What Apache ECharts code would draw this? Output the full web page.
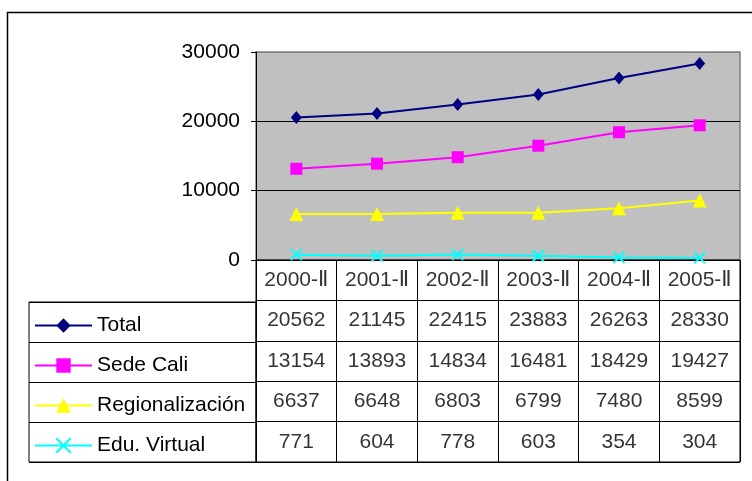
<!DOCTYPE html>
<html>
<head>
<meta charset="utf-8">
<script src="https://cdn.jsdelivr.net/npm/echarts@6/dist/echarts.min.js"></script>
<style>
  html, body { margin: 0; padding: 0; background: #fff; }
  #main { width: 752px; height: 481px; }
</style>
</head>
<body>
<div id="main"></div>
<script>
// periodos
var categories = ['2000-Ⅱ', '2001-Ⅱ', '2002-Ⅱ', '2003-Ⅱ', '2004-Ⅱ', '2005-Ⅱ'];
var seriesNames = ['Total', 'Sede Cali', 'Regionalización', 'Edu. Virtual'];
var total = [20562, 21145, 22415, 23883, 26263, 28330];
var sedeCali = [13154, 13893, 14834, 16481, 18429, 19427];
var regionalizacion = [6637, 6648, 6803, 6799, 7480, 8599];
var eduVirtual = [771, 604, 778, 603, 354, 304];
var yTicks = [0, 10000, 20000, 30000];

var font = 'Liberation Sans, Arial, DejaVu Sans, sans-serif';
var fsize = 21;
var allValues = [total, sedeCali, regionalizacion, eduVirtual];
var colors = ['#000080', '#FF00FF', '#FFFF00', '#00FFFF'];
var symbols = ['diamond', 'rect', 'triangle', 'path://M0,0L10,10M10,0L0,10'];
var sizes = [[11, 13], 12, 14, 11];

// celdas de la tabla de datos
var cells = [];
categories.forEach(function (c, i) {
  cells.push({ value: [i, 0], txt: c });
});
allValues.forEach(function (arr, r) {
  arr.forEach(function (v, i) {
    cells.push({ value: [i, r + 1], txt: String(v) });
  });
});

var chart = echarts.init(document.getElementById('main'));

var series = seriesNames.map(function (name, k) {
  var isX = k == 3;
  return {
    name: name,
    type: 'line',
    xAxisIndex: 0,
    yAxisIndex: 0,
    data: allValues[k],
    symbol: symbols[k],
    symbolSize: sizes[k],
    showAllSymbol: true,
    lineStyle: { color: colors[k], width: 2 },
    itemStyle: {
      color: isX ? 'none' : colors[k],
      borderColor: colors[k],
      borderWidth: isX ? 2 : 0
    },
    emphasis: { disabled: true },
    animation: false
  };
});

series.push({
  type: 'scatter',
  xAxisIndex: 1,
  yAxisIndex: 1,
  data: cells,
  symbolSize: 1,
  itemStyle: { color: 'rgba(0,0,0,0)' },
  label: {
    show: true,
    position: 'inside',
    fontFamily: font,
    fontSize: fsize,
    color: '#000',
    formatter: function (p) { return p.data.txt; }
  },
  silent: true,
  animation: false
});

var option = {
  animation: false,
  graphic: [{
    type: 'polyline',
    shape: { points: [[7.5, 481], [7.5, 12.5], [752, 12.5]] },
    style: { stroke: '#000', lineWidth: 1.5, fill: 'none' },
    silent: true
  }],
  legend: {
    orient: 'vertical',
    left: 29,
    top: 310,
    itemWidth: 57,
    itemHeight: 18,
    itemGap: 19,
    data: seriesNames,
    selectedMode: false,
    textStyle: { fontFamily: font, fontSize: fsize, color: '#000' }
  },
  grid: [
    {
      left: 256, top: 52, width: 484, height: 208,
      show: true, backgroundColor: '#C0C0C0',
      borderColor: '#808080', borderWidth: 1.5
    },
    {
      left: 256, top: 260, width: 484, height: 202,
      show: true, backgroundColor: 'rgba(0,0,0,0)',
      borderColor: '#000', borderWidth: 1
    },
    {
      left: 29, top: 302, width: 227, height: 160,
      show: true, backgroundColor: 'rgba(0,0,0,0)',
      borderColor: '#000', borderWidth: 1
    }
  ],
  xAxis: [
    {
      gridIndex: 0, type: 'category', data: categories, boundaryGap: true,
      axisLine: { lineStyle: { color: '#000', width: 1 } },
      axisTick: { show: false }, axisLabel: { show: false }
    },
    {
      gridIndex: 1, type: 'category', data: categories, boundaryGap: true,
      axisLine: { show: false }, axisTick: { show: false }, axisLabel: { show: false },
      splitLine: { show: true, lineStyle: { color: '#000', width: 1 } }
    },
    {
      gridIndex: 2, type: 'value', min: 0, max: 1,
      axisLine: { show: false }, axisTick: { show: false }, axisLabel: { show: false },
      splitLine: { show: false }
    }
  ],
  yAxis: [
    {
      gridIndex: 0, type: 'value', min: yTicks[0], max: yTicks[yTicks.length - 1], interval: 10000,
      axisLine: { show: true, lineStyle: { color: '#000', width: 1 } },
      axisTick: { show: true, length: 5, lineStyle: { color: '#000' } },
      axisLabel: {
        fontFamily: font, fontSize: fsize, color: '#000', margin: 16,
        formatter: function (v) { return String(v); }
      },
      splitLine: { show: true, lineStyle: { color: ['#000', '#000', '#000', '#808080'], width: 1 } }
    },
    {
      gridIndex: 1, type: 'category', data: [''].concat(seriesNames), inverse: true,
      axisLine: { show: false }, axisTick: { show: false }, axisLabel: { show: false },
      splitLine: { show: true, lineStyle: { color: '#000', width: 1 } }
    },
    {
      gridIndex: 2, type: 'category', data: seriesNames, inverse: true,
      axisLine: { show: false }, axisTick: { show: false }, axisLabel: { show: false },
      splitLine: { show: true, lineStyle: { color: '#000', width: 1 } }
    }
  ],
  series: series
};

chart.setOption(option);
</script>
</body>
</html>
